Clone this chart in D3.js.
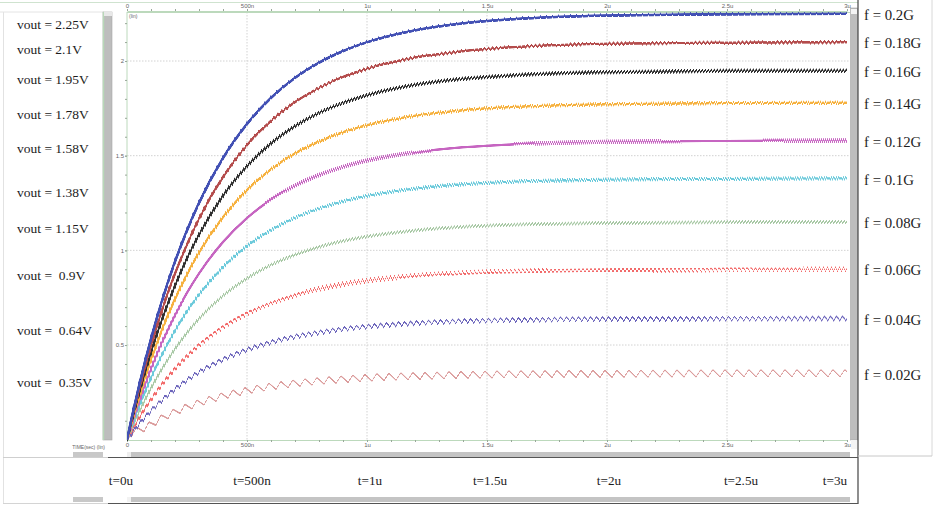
<!DOCTYPE html>
<html><head><meta charset="utf-8">
<script src="https://cdn.jsdelivr.net/npm/d3@7"></script>
<style>html,body{margin:0;padding:0;background:#fff;overflow:hidden}svg{display:block}</style>
</head><body>
<script>
// ---------------- DATA ----------------
const timesUs = [0, 0.02, 0.05, 0.1, 0.15, 0.2, 0.25, 0.3, 0.4, 0.5, 0.6, 0.7, 0.8, 0.9, 1.0, 1.2, 1.4, 1.6, 1.8, 2.0, 2.5, 3.0];
const freqLabels = ["f = 0.2G", "f = 0.18G", "f = 0.16G", "f = 0.14G", "f = 0.12G", "f = 0.1G", "f = 0.08G", "f = 0.06G", "f = 0.04G", "f = 0.02G"];
const voutLabels = ["vout = 2.25V", "vout = 2.1V", "vout = 1.95V", "vout = 1.78V", "vout = 1.58V", "vout = 1.38V", "vout = 1.15V", "vout =  0.9V", "vout =  0.64V", "vout =  0.35V"];
const finalVolts = [2.25, 2.1, 1.95, 1.78, 1.58, 1.38, 1.15, 0.9, 0.64, 0.35];
const seriesColors = ["#4250b4", "#b44c4c", "#303030", "#f6b13e", "#c665c1", "#6ccadb", "#a9c9a6", "#f26a6a", "#6d66bc", "#db9c9c"];
const v020 = [0, 0.118, 0.284, 0.533, 0.750, 0.940, 1.105, 1.250, 1.487, 1.667, 1.805, 1.911, 1.991, 2.052, 2.099, 2.162, 2.199, 2.220, 2.233, 2.240, 2.247, 2.249];
const v018 = [0, 0.110, 0.265, 0.497, 0.700, 0.877, 1.032, 1.167, 1.388, 1.556, 1.685, 1.783, 1.858, 1.916, 1.959, 2.018, 2.052, 2.072, 2.084, 2.091, 2.097, 2.099];
const v016 = [0, 0.103, 0.246, 0.462, 0.650, 0.814, 0.958, 1.083, 1.289, 1.445, 1.565, 1.656, 1.726, 1.779, 1.819, 1.874, 1.906, 1.924, 1.935, 1.941, 1.948, 1.949];
const v014 = [0, 0.094, 0.225, 0.422, 0.593, 0.743, 0.874, 0.989, 1.176, 1.319, 1.428, 1.512, 1.575, 1.624, 1.661, 1.711, 1.740, 1.757, 1.766, 1.772, 1.778, 1.779];
const v012 = [0, 0.083, 0.200, 0.374, 0.527, 0.660, 0.776, 0.878, 1.044, 1.171, 1.268, 1.342, 1.398, 1.441, 1.474, 1.518, 1.544, 1.559, 1.568, 1.573, 1.578, 1.580];
const v010 = [0, 0.073, 0.174, 0.327, 0.460, 0.576, 0.678, 0.767, 0.912, 1.023, 1.107, 1.172, 1.221, 1.259, 1.288, 1.326, 1.349, 1.362, 1.369, 1.374, 1.378, 1.380];
const v008 = [0, 0.061, 0.145, 0.272, 0.383, 0.480, 0.565, 0.639, 0.760, 0.852, 0.923, 0.977, 1.018, 1.049, 1.073, 1.105, 1.124, 1.135, 1.141, 1.145, 1.149, 1.150];
const v006 = [0, 0.047, 0.114, 0.213, 0.300, 0.376, 0.442, 0.500, 0.595, 0.667, 0.722, 0.764, 0.796, 0.821, 0.840, 0.865, 0.880, 0.888, 0.893, 0.896, 0.899, 0.900];
const v004 = [0, 0.034, 0.081, 0.152, 0.213, 0.267, 0.314, 0.356, 0.423, 0.474, 0.514, 0.544, 0.566, 0.584, 0.597, 0.615, 0.626, 0.632, 0.635, 0.637, 0.639, 0.640];
const v002 = [0, 0.040, 0.050, 0.080, 0.117, 0.146, 0.172, 0.194, 0.231, 0.259, 0.281, 0.297, 0.310, 0.319, 0.327, 0.336, 0.342, 0.345, 0.347, 0.348, 0.350, 0.350];
const seriesValues = [v020, v018, v016, v014, v012, v010, v008, v006, v004, v002];
// ripple: period (ns) and peak-to-peak height (V)
const ripplePeriodNs = [5, 5.6, 6.25, 7.1, 8.3, 10, 12.5, 16.7, 25, 50];
const rippleHeightV = [0.006, 0.008, 0.011, 0.011, 0.013, 0.016, 0.017, 0.021, 0.026, 0.037];
const timeTickValues = [0, 0.5, 1, 1.5, 2, 2.5, 3];
const timeTickLabels = ["0", "500n", "1u", "1.5u", "2u", "2.5u", "3u"];
const voltTickValues = [0.5, 1, 1.5, 2];
const voltTickLabels = ["0.5", "1", "1.5", "2"];
const bottomTimeLabels = ["t=0u", "t=500n", "t=1u", "t=1.5u", "t=2u", "t=2.5u", "t=3u"];

// ---------------- LAYOUT ----------------
const W = 933, H = 506;
const plotL = 127, plotR = 850, plotT = 12, plotB = 440;
const leftLabelY = [24, 49, 79, 114, 148, 192, 228, 275, 330, 382];
const bottomLabelDx = [-6, 5, 3, 3, 2, 14, -12];
const strokeW = [2.3, 2, 2, 2, 2, 1.8, 1.5, 1.3, 1.3, 1.2];

const svg = d3.select("body").append("svg").attr("width", W).attr("height", H)
  .attr("xmlns:xlink", "http://www.w3.org/1999/xlink");
const x = d3.scaleLinear().domain([0, 3]).range([plotL, 847]);
const y = d3.scaleLinear().domain([0, 2]).range([439.7, 61]);

// frames / panels
const g0 = svg.append("g");
g0.append("line").attr("x1", 0).attr("x2", 858).attr("y1", 2.5).attr("y2", 2.5).attr("stroke", "#cfe3cf");
g0.append("line").attr("x1", 3.5).attr("x2", 3.5).attr("y1", 12).attr("y2", 504).attr("stroke", "#e2e2e2");
g0.append("line").attr("x1", 0).attr("x2", 104).attr("y1", 12).attr("y2", 12).attr("stroke", "#e4e4e4");
g0.append("rect").attr("x", 103).attr("y", 12).attr("width", 9).attr("height", 428).attr("fill", "#bdbdbd").attr("stroke", "#a8a8a8").attr("stroke-width", 0.6);
g0.append("line").attr("x1", 103.5).attr("x2", 103.5).attr("y1", 12).attr("y2", 440).attr("stroke", "#b8d8b8").attr("stroke-width", 1.5);
g0.append("rect").attr("x", 104).attr("y", 12).attr("width", 8).attr("height", 4).attr("fill", "#e8e8e8");
g0.append("rect").attr("x", 850.5).attr("y", 8).attr("width", 7).attr("height", 432).attr("fill", "#bdbdbd").attr("stroke", "#a5a5a5").attr("stroke-width", 0.6);
g0.append("rect").attr("x", 851).attr("y", 9).attr("width", 6).attr("height", 5).attr("fill", "#f4f4f4");
g0.append("rect").attr("x", 851).attr("y", 440).attr("width", 6).attr("height", 9).attr("fill", "#f4f4f4");
g0.append("line").attr("x1", 858).attr("x2", 858).attr("y1", 0).attr("y2", 504).attr("stroke", "#444").attr("stroke-width", 1.2);
g0.append("line").attr("x1", 932).attr("x2", 932).attr("y1", 0).attr("y2", 456).attr("stroke", "#d8d8d8");
g0.append("line").attr("x1", 858).attr("x2", 932).attr("y1", 456).attr("y2", 456).attr("stroke", "#c8c8c8");
g0.append("rect").attr("x", 127).attr("y", 452).attr("width", 723).attr("height", 5).attr("fill", "#c4c4c4");
g0.append("rect").attr("x", 127).attr("y", 452).attr("width", 4).attr("height", 5).attr("fill", "#eee");
g0.append("rect").attr("x", 73).attr("y", 452).attr("width", 30).attr("height", 5).attr("fill", "#c8c8c8");
g0.append("line").attr("x1", 3).attr("x2", 108).attr("y1", 457.5).attr("y2", 457.5).attr("stroke", "#cfcfcf");
g0.append("line").attr("x1", 108).attr("x2", 858).attr("y1", 457.5).attr("y2", 457.5).attr("stroke", "#555").attr("stroke-width", 1.2);
g0.append("rect").attr("x", 127).attr("y", 497).attr("width", 723).attr("height", 5).attr("fill", "#c4c4c4");
g0.append("rect").attr("x", 127).attr("y", 497).attr("width", 4).attr("height", 5).attr("fill", "#f2f2f2");
g0.append("rect").attr("x", 73).attr("y", 497).attr("width", 30).attr("height", 5).attr("fill", "#c8c8c8");
g0.append("line").attr("x1", 3).attr("x2", 108).attr("y1", 503.5).attr("y2", 503.5).attr("stroke", "#d4d4d4");
g0.append("line").attr("x1", 108).attr("x2", 858).attr("y1", 503.5).attr("y2", 503.5).attr("stroke", "#555").attr("stroke-width", 1.2);

// grid
const grid = svg.append("g");
grid.selectAll("line.vg").data(timeTickValues.slice(1, -1)).join("line")
  .attr("x1", d => x(d)).attr("x2", d => x(d)).attr("y1", plotT).attr("y2", plotB)
  .attr("stroke", "#d2d2d2").attr("stroke-dasharray", "1.5,1.5");
grid.selectAll("line.hg").data(voltTickValues).join("line")
  .attr("x1", plotL).attr("x2", plotR).attr("y1", d => y(d)).attr("y2", d => y(d))
  .attr("stroke", "#d2d2d2").attr("stroke-dasharray", "1.5,1.5");

// axes
const axisColor = "#bcd9bc";
const minorT = d3.range(0, 31).map(i => i / 10);
const minorV = d3.range(1, 23).map(i => i / 10);
function styleAxis(g) {
  g.select(".domain").attr("stroke", axisColor);
  g.selectAll(".tick line").attr("stroke", "#9aa89a");
  g.selectAll(".tick text").attr("fill", "#666").attr("font-family", "Arial, 'Liberation Sans', sans-serif").attr("font-size", 6);
}
const topAx = svg.append("g").attr("transform", `translate(0,${plotT - 1})`)
  .call(d3.axisTop(x).tickValues(timeTickValues).tickFormat((d, i) => timeTickLabels[i]).tickSize(2).tickPadding(1).tickSizeOuter(0));
styleAxis(topAx);
svg.append("g").attr("transform", `translate(0,${plotT - 1})`)
  .call(d3.axisTop(x).tickValues(minorT).tickFormat("").tickSize(2).tickSizeOuter(0)).call(g => { g.select(".domain").remove(); g.selectAll("line").attr("stroke", "#9aa89a"); });
svg.append("line").attr("x1", plotL).attr("x2", plotR).attr("y1", plotT + 0.5).attr("y2", plotT + 0.5).attr("stroke", axisColor);

const botAx = svg.append("g").attr("transform", `translate(0,${plotB})`)
  .call(d3.axisBottom(x).tickValues(timeTickValues).tickFormat((d, i) => timeTickLabels[i]).tickSize(2).tickPadding(1).tickSizeOuter(0));
styleAxis(botAx);
svg.append("g").attr("transform", `translate(0,${plotB})`)
  .call(d3.axisBottom(x).tickValues(minorT).tickFormat("").tickSize(2).tickSizeOuter(0)).call(g => { g.select(".domain").remove(); g.selectAll("line").attr("stroke", "#9aa89a"); });

const leftAx = svg.append("g").attr("transform", `translate(${plotL},0)`)
  .call(d3.axisLeft(y).tickValues(voltTickValues).tickFormat((d, i) => voltTickLabels[i]).tickSize(2).tickPadding(1).tickSizeOuter(0));
styleAxis(leftAx);
leftAx.select(".domain").attr("d", `M0,${plotT}V${plotB}`);
svg.append("g").attr("transform", `translate(${plotL},0)`)
  .call(d3.axisLeft(y).tickValues(minorV).tickFormat("").tickSize(2).tickSizeOuter(0)).call(g => { g.select(".domain").remove(); g.selectAll("line").attr("stroke", "#9aa89a"); });

svg.append("text").attr("x", plotL + 2).attr("y", plotT + 6).text("(lin)")
  .attr("font-family", "Arial, sans-serif").attr("font-size", 5).attr("fill", "#666");
svg.append("text").attr("x", 105).attr("y", 448.5).attr("text-anchor", "end").text("TIME(sec) (lin)")
  .attr("font-family", "Arial, sans-serif").attr("font-size", 5).attr("fill", "#666");

// ripple filters (line style: saw-tooth displacement of each curve)
const defs = svg.append("defs");
defs.append("clipPath").attr("id", "plotClip").append("rect")
  .attr("x", plotL).attr("y", plotT).attr("width", plotR - plotL).attr("height", plotB - plotT + 1);
seriesValues.forEach((vals, i) => {
  const per = x(ripplePeriodNs[i] / 1000) - x(0);
  const amp = y(0) - y(rippleHeightV[i]);
  const mapSvg = `<svg xmlns="http://www.w3.org/2000/svg" width="${W}" height="${H}" viewBox="0 0 ${W} ${H}">` +
    `<defs><linearGradient id="g" gradientUnits="userSpaceOnUse" x1="0" y1="0" x2="${per}" y2="0" spreadMethod="repeat">` +
    `<stop offset="0" stop-color="rgb(128,0,0)"/><stop offset="0.4" stop-color="rgb(128,255,0)"/><stop offset="1" stop-color="rgb(128,0,0)"/>` +
    `</linearGradient></defs><rect x="0" y="0" width="${W}" height="${H}" fill="url(#g)"/></svg>`;
  const uri = "data:image/svg+xml;charset=utf-8," + encodeURIComponent(mapSvg);
  const f = defs.append("filter").attr("id", "rf" + i).attr("filterUnits", "userSpaceOnUse")
    .attr("primitiveUnits", "userSpaceOnUse")
    .attr("x", 0).attr("y", 0).attr("width", W).attr("height", H).attr("color-interpolation-filters", "sRGB");
  f.append("feImage").attr("href", uri).attr("xlink:href", uri).attr("preserveAspectRatio", "none")
    .attr("x", 0).attr("y", 0).attr("width", W).attr("height", H).attr("result", "map");
  f.append("feDisplacementMap").attr("in", "SourceGraphic").attr("in2", "map").attr("scale", amp)
    .attr("xChannelSelector", "R").attr("yChannelSelector", "G").attr("result", "disp");
  f.append("feGaussianBlur").attr("in", "disp").attr("stdDeviation", "0.35 0.6").attr("result", "soft");
  const ct = f.append("feComponentTransfer").attr("in", "soft");
  ct.append("feFuncA").attr("type", "linear").attr("slope", 1.7).attr("intercept", 0);
});

// curves
const line = d3.line().x(d => x(d[0])).y(d => y(d[1])).curve(d3.curveMonotoneX);
const curves = svg.append("g").attr("clip-path", "url(#plotClip)");
d3.range(seriesValues.length).reverse().forEach(i => {
  curves.append("g").attr("filter", `url(#rf${i})`)
    .append("path").datum(timesUs.map((t, k) => [t, seriesValues[i][k]]))
    .attr("d", line).attr("fill", "none").attr("stroke", seriesColors[i]).attr("stroke-width", strokeW[i])
    .attr("stroke-linejoin", "round");
});

// labels
const serif = "'Liberation Serif', 'Times New Roman', serif";
svg.append("g").selectAll("text").data(voutLabels).join("text")
  .attr("x", 17).attr("y", (d, i) => leftLabelY[i]).attr("dy", "0.35em")
  .attr("font-family", serif).attr("font-size", 13.5).attr("fill", "#1c1c1c")
  .style("white-space", "pre").text(d => d);
svg.append("g").selectAll("text").data(freqLabels).join("text")
  .attr("x", 864).attr("y", (d, i) => y(finalVolts[i]) + 1).attr("dy", "0.35em")
  .attr("font-family", serif).attr("font-size", 14.8).attr("fill", "#1c1c1c").text(d => d);
svg.append("g").selectAll("text").data(bottomTimeLabels).join("text")
  .attr("x", (d, i) => x(timeTickValues[i]) + bottomLabelDx[i]).attr("y", 480).attr("dy", "0.35em")
  .attr("text-anchor", "middle")
  .attr("font-family", serif).attr("font-size", 13.2).attr("fill", "#1c1c1c").text(d => d);
</script>
</body></html>
